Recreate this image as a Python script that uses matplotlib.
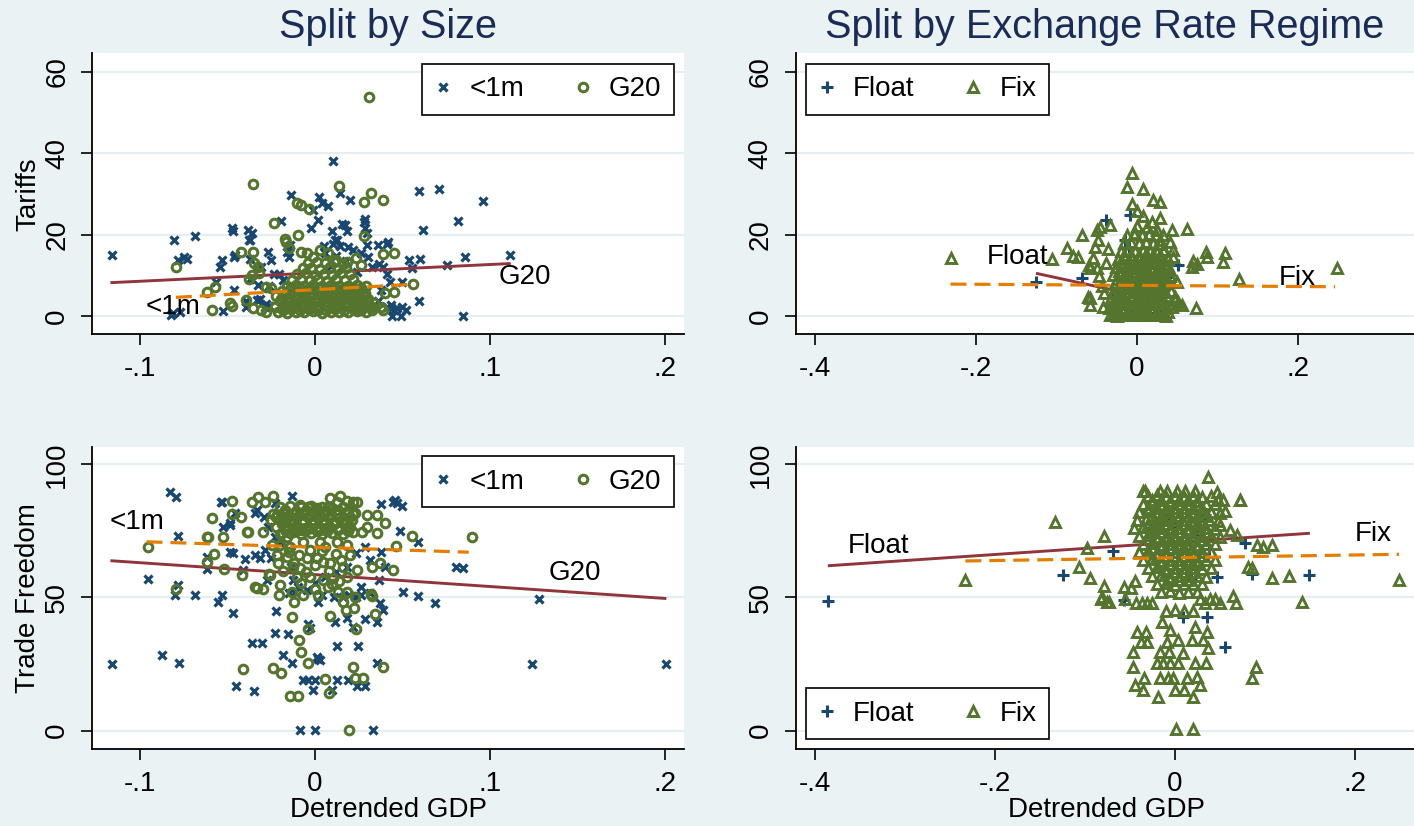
import matplotlib
matplotlib.use("Agg")
import matplotlib.pyplot as plt
from matplotlib.lines import Line2D

plt.rcParams['font.family'] = ['Liberation Sans', 'DejaVu Sans']

# ---------------- colours (Stata s2color) ----------------
NAVY = "#1a476f"
MAROON = "#90353b"
GREEN = "#55752f"
ORANGE = "#e37e00"
BG = "#eaf2f3"
GRID = "#e6eef2"
TITLE_C = "#1a2b56"

# ---------------- data ----------------
TITLES = ["Split by Size", "Split by Exchange Rate Regime"]
YLABELS = ["Tariffs", "Trade Freedom"]
XLABEL = "Detrended GDP"

SIZE_LABELS = ["<1m", "G20"]
ERR_LABELS = ["Float", "Fix"]

TOP_XTICKS_L = [-0.1, 0, 0.1, 0.2]
TOP_XTICKLABELS_L = ["-.1", "0", ".1", ".2"]
XTICKS_R = [-0.4, -0.2, 0, 0.2]
XTICKLABELS_R = ["-.4", "-.2", "0", ".2"]
YTICKS_TOP = [0, 20, 40, 60]
YTICKS_BOT = [0, 50, 100]

# Panel 1: tariffs, split by size
P1_SMALL = [(-0.116,15.0),(-0.0806,18.7),(-0.0686,19.7),(-0.075,14.5),(-0.073,14.0),(-0.078,13.8),
    (-0.081,0.8),(-0.082,0.2),(-0.077,1.0),(-0.053,13.7),(-0.054,12.1),(-0.046,14.6),(-0.0476,21.6),
    (-0.047,20.8),(-0.038,21.2),(-0.036,20.4),(-0.0377,18.6),(-0.0563,8.4),(-0.0526,1.3),(-0.0396,2.3),
    (-0.0394,3.8),(-0.046,6.5),(-0.037,9.0),(-0.0325,7.7),(-0.0317,4.2),(-0.028,2.9),(-0.026,2.5),
    (-0.0195,23.4),(-0.0138,29.7),(-0.037,18.6),(-0.0457,15.1),(-0.037,14.0),(-0.0306,12.1),
    (-0.0254,13.7),(-0.0151,14.6),(-0.0267,15.8),(0.0105,38.1),(0.0023,29.2),(0.0038,27.8),
    (0.0076,27.0),(-0.001,26.0),(0.0143,30.2),(0.020,28.5),(0.0286,23.8),(0.002,23.5),(-0.0023,21.5),
    (0.010,21.0),(0.0157,22.7),(0.017,22.3),(0.0185,21.0),(0.030,20.5),(0.0287,21.5),(0.0281,23.1),
    (0.0113,18.7),(0.0126,18.6),(0.0101,17.8),(0.005,17.2),(0.0145,17.3),(0.019,17.0),(0.030,17.4),
    (0.036,17.4),(0.041,17.8),(0.042,18.1),(0.0264,15.4),(0.0305,14.6),(0.0325,12.1),(0.0367,12.9),
    (0.0388,12.1),(0.0409,10.4),(0.0429,8.4),(0.0377,6.3),(0.0435,2.7),(0.0449,1.5),(0.0439,0.0),
    (0.0409,2.3),(0.0359,3.6),(0.0338,2.3),(-0.0203,10.4),(-0.0182,8.8),(-0.0162,5.6),(-0.012,3.1),
    (-0.014,17.4),(-0.016,15.8),(-0.0233,10.4),(-0.026,7.3),(-0.033,4.0),(-0.0284,2.3),
    (0.006,15.5),(0.012,14.8),(0.018,13.5),(0.022,16.2),(0.009,12.4),(0.024,10.8),
    (0.0594,30.7),(0.0707,31.1),(0.0962,28.3),(0.0815,23.4),(0.0617,21.1),(0.1114,15.0),(0.0857,14.4),
    (0.0752,12.5),(0.054,13.7),(0.060,13.9),(0.0557,11.8),(0.05,8.3),(0.0594,3.8),(0.0848,0.0),
    (0.047,2.0),(0.05,2.2),(0.049,0.0),(0.052,1.5)]

P1_G20 = [(0.0307,53.8),(-0.0356,32.3),(0.0139,32.0),(0.032,30.3),(0.039,28.5),(0.028,28.0),
    (-0.010,27.7),(-0.0079,27.2),(-0.0035,26.4),(-0.0234,22.8),(-0.0171,19.0),(-0.0164,18.3),
    (-0.0095,20.0),(0.028,19.7),(-0.0354,15.8),(-0.0422,15.8),(-0.0794,12.1),(-0.057,7.2),(-0.0619,6.0),
    (-0.0589,1.5),(-0.0476,2.5),(-0.0487,3.2),(-0.0396,3.9),(-0.0375,9.2),(-0.035,13.1),(-0.0327,12.0),
    (-0.028,7.2),(-0.0254,6.8),(-0.0357,1.9),(-0.0306,1.5),(-0.028,1.1),(-0.0151,16.8),(-0.0079,15.8),
    (-0.0048,15.4),(-0.001,14.6),(0.0029,16.2),(0.0075,15.4),(0.0119,13.7),(0.0184,13.3),(0.0235,14.2),
    (0.0261,12.5),(0.039,15.2),(0.0454,15.6),(0.0403,5.6),(0.0454,6.0),(0.0562,7.8),(0.0326,2.3),
    (0.0377,2.3),(0.039,1.5),(-0.036,10.0),(-0.032,10.6),
    (-0.021,1.0),(-0.016,0.8),(-0.011,1.1),(-0.006,0.9),(-0.001,1.2),(0.004,0.8),(0.009,1.0),(0.014,1.1),
    (0.019,0.9),(0.024,1.2),(0.029,1.0),
    (-0.023,2.3),(-0.018,2.1),(-0.013,2.4),(-0.008,2.2),(-0.003,2.5),(0.002,2.1),(0.007,2.4),(0.012,2.2),
    (0.017,2.5),(0.022,2.3),(0.027,2.1),(0.031,2.6),
    (-0.020,3.6),(-0.015,3.8),(-0.010,3.5),(-0.005,3.9),(0.000,3.6),(0.005,3.4),(0.010,3.8),(0.015,3.6),
    (0.020,3.9),(0.025,3.5),(0.030,3.7),
    (-0.022,4.9),(-0.017,5.1),(-0.012,4.8),(-0.007,5.0),(-0.002,4.7),(0.003,5.1),(0.008,4.9),(0.013,5.2),
    (0.018,4.8),(0.023,5.0),(0.028,4.9),
    (-0.019,6.2),(-0.014,6.4),(-0.009,6.1),(-0.004,6.3),(0.001,6.0),(0.006,6.4),(0.011,6.2),(0.016,6.1),
    (0.021,6.3),(0.026,6.2),
    (-0.016,7.5),(-0.011,7.7),(-0.006,7.4),(-0.001,7.6),(0.004,7.3),(0.009,7.7),(0.014,7.5),(0.019,7.4),
    (0.024,7.6),(0.029,7.5),
    (-0.013,8.9),(-0.008,9.1),(-0.003,8.8),(0.002,9.0),(0.007,8.7),(0.012,9.1),(0.017,8.9),(0.022,9.0),
    (-0.010,10.3),(-0.005,10.5),(0.000,10.2),(0.005,10.4),(0.010,10.1),(0.015,10.5),(0.020,10.3),
    (-0.007,11.7),(-0.002,11.9),(0.003,11.6),(0.008,11.8),(0.013,11.5),(0.018,11.9),
    (-0.004,13.1),(0.001,13.3),(0.006,13.0),(0.011,13.2),(0.016,12.9),
    (-0.0185,1.6),(-0.0135,1.7),(-0.0085,1.5),(-0.0035,1.8),(0.0015,1.6),(0.0065,1.5),(0.0115,1.7),
    (0.0165,1.6),(0.0215,1.8),(0.0265,1.5),(0.0325,1.4),
    (-0.0175,3.0),(-0.0125,2.9),(-0.0075,3.1),(-0.0025,3.0),(0.0025,2.8),(0.0075,3.1),(0.0125,3.0),
    (0.0175,2.9),(0.0225,3.1),(0.0275,3.0),(0.0335,3.2),
    (-0.0195,4.3),(-0.0145,4.2),(-0.0095,4.4),(-0.0045,4.3),(0.0005,4.1),(0.0055,4.4),(0.0105,4.3),
    (0.0155,4.2),(0.0205,4.4),(0.0255,4.3),(0.0305,4.2),
    (-0.0165,5.6),(-0.0115,5.5),(-0.0065,5.7),(-0.0015,5.6),(0.0035,5.4),(0.0085,5.7),(0.0135,5.6),
    (0.0185,5.5),(0.0235,5.7),(0.0285,5.6),
    (-0.0135,6.9),(-0.0085,6.8),(-0.0035,7.0),(0.0015,6.9),(0.0065,6.7),(0.0115,7.0),(0.0165,6.9),
    (0.0215,6.8),(0.0265,7.0)]

P1_FIT_SMALL_X = [-0.1169, 0.1119]
P1_FIT_SMALL_Y = [8.2, 12.9]
P1_FIT_G20_X = [-0.0795, 0.0562]
P1_FIT_G20_Y = [4.6, 7.8]

# Panel 2: tariffs, split by exchange rate regime
P2_FLOAT = [(-0.1255,8.4),(-0.0687,9.4),(-0.0389,23.6),(-0.0087,24.8),(0.0513,12.5),(0.0402,9.5),
    (-0.0149,18.6),(-0.021,0.7),(0.012,0.7),(0.0286,2.0),(-0.005,1.5),(0.02,3.5),(-0.01,17.0),
    (0.005,10.0),(0.03,6.0),(-0.03,5.0)]

P2_FIX = [(-0.2314,14.3),(-0.106,13.9),(-0.0873,16.6),(-0.079,14.7),(-0.0729,14.4),(-0.068,19.9),
    (-0.0596,12.5),(-0.058,11.7),(-0.0066,35.0),(-0.0128,31.7),(0.0078,31.3),(0.0195,28.6),(0.0286,28.0),
    (-0.0066,27.6),(-0.0004,25.9),(0.0286,24.0),(0.043,21.1),(0.0617,21.3),(0.0853,15.8),(0.0866,14.6),
    (0.1093,15.4),(0.1072,13.3),(0.075,12.8),(0.07,13.5),(0.068,12.0),(0.127,9.2),(0.0729,1.9),
    (0.2488,11.9),(-0.046,21.8),(-0.0335,22.3),(-0.050,21.1),(-0.048,18.6),(-0.0522,17.0),(-0.0543,14.2),
    (-0.050,11.7),(-0.0605,4.7),(-0.0584,4.5),(-0.0584,2.7),(-0.0419,2.3),(-0.0335,0.2),(-0.0252,0.0),
    (0.0017,0.2),(0.0224,0.2),(0.0348,0.2),(0.036,0.0),(0.0472,4.7),(0.0493,8.4),(0.041,11.3),
    (0.0513,3.5),(0.0555,2.7),(0.0307,9.6),(0.0327,16.2),(0.0286,18.6),(0.041,18.2),(0.0451,16.2),
    (0.0445,14.5),(0.012,21.9),(0.0182,23.1),(0.0245,21.1),(0.0327,19.9),(0.0,22.0),(-0.004,20.2),
    (0.0078,24.5),(-0.044,7.5),(-0.047,9.8),(-0.041,5.6),(-0.038,13.0),(-0.036,16.5),
    (-0.030,0.3),(-0.022,0.4),(-0.012,0.2),(-0.003,0.4),(0.006,0.3),(0.015,0.2),(0.024,0.4),(0.033,0.3),
    (-0.035,2.0),(-0.027,2.2),(-0.018,1.9),(-0.009,2.1),(0.000,2.0),(0.009,2.2),(0.018,1.8),(0.027,2.1),
    (0.036,2.0),(0.044,2.2),
    (-0.033,4.0),(-0.024,4.2),(-0.015,3.9),(-0.006,4.1),(0.003,4.0),(0.012,3.8),(0.021,4.1),(0.030,4.0),
    (0.039,4.2),(0.047,3.9),
    (-0.030,6.0),(-0.021,6.2),(-0.012,5.9),(-0.003,6.1),(0.006,6.0),(0.015,5.8),(0.024,6.2),(0.033,6.0),
    (0.042,6.1),
    (-0.028,8.0),(-0.019,8.2),(-0.010,7.9),(-0.001,8.1),(0.008,8.0),(0.017,7.8),(0.026,8.2),(0.035,8.0),
    (-0.030,10.0),(-0.021,10.2),(-0.012,9.9),(-0.003,10.1),(0.006,10.0),(0.015,9.8),(0.024,10.2),
    (0.033,10.0),(0.041,9.9),
    (-0.026,12.0),(-0.017,12.2),(-0.008,11.9),(0.001,12.1),(0.010,12.0),(0.019,11.8),(0.028,12.2),
    (0.037,12.0),
    (-0.024,14.0),(-0.015,14.2),(-0.006,13.9),(0.003,14.1),(0.012,14.0),(0.021,13.8),(0.030,14.2),
    (0.038,14.0),
    (-0.020,16.0),(-0.011,16.2),(-0.002,15.9),(0.007,16.1),(0.016,16.0),(0.025,15.8),(0.034,16.2),
    (-0.016,18.0),(-0.007,18.2),(0.002,17.9),(0.011,18.1),(0.020,18.0),(0.029,17.8),
    (-0.012,20.0),(-0.003,20.3),(0.006,19.8),(0.015,20.1),(0.024,20.0),
    (-0.026,1.0),(-0.017,1.1),(-0.008,0.9),(0.001,1.2),(0.010,1.0),(0.019,1.1),(0.028,0.9),(0.038,1.1),
    (-0.030,3.0),(-0.021,3.1),(-0.012,2.9),(-0.003,3.2),(0.006,3.0),(0.015,3.1),(0.024,2.9),(0.033,3.1),
    (0.042,3.0),
    (-0.026,5.0),(-0.017,5.1),(-0.008,4.9),(0.001,5.2),(0.010,5.0),(0.019,5.1),(0.028,4.9),(0.037,5.0),
    (-0.024,7.0),(-0.015,7.1),(-0.006,6.9),(0.003,7.2),(0.012,7.0),(0.021,7.1),(0.030,6.9),
    (-0.025,9.0),(-0.016,9.1),(-0.007,8.9),(0.002,9.2),(0.011,9.0),(0.020,9.1),(0.029,8.9),(0.037,9.0),
    (-0.022,11.0),(-0.013,11.1),(-0.004,10.9),(0.005,11.2),(0.014,11.0),(0.023,11.1),(0.032,10.9),
    (-0.020,13.0),(-0.011,13.1),(-0.002,12.9),(0.007,13.2),(0.016,13.0),(0.025,13.1),(0.034,12.9),
    (-0.016,15.0),(-0.007,15.1),(0.002,14.9),(0.011,15.2),(0.020,15.0),(0.029,15.1)]

P2_FIT_FLOAT_X = [-0.1255, 0.052]
P2_FIT_FLOAT_Y = [10.5, 2.9]
P2_FIT_FIX_X = [-0.2317, 0.246]
P2_FIT_FIX_Y = [7.85, 7.2]

# Panel 3: trade freedom, split by size
P3_SMALL = [(-0.116,24.9),(-0.0829,89.7),(-0.0794,87.8),(-0.0784,73.1),(-0.0952,56.9),(-0.080,50.9),
    (-0.078,54.7),(-0.0686,50.9),(-0.0876,28.4),(-0.0775,25.3),(-0.0553,48.4),(-0.0533,50.9),
    (-0.0467,44.1),(-0.0453,16.9),(-0.0347,15.0),(-0.0362,33.0),(-0.0305,33.0),(-0.0229,36.6),
    (-0.0153,36.2),(-0.0185,28.4),(-0.0133,25.3),(-0.0223,44.9),(-0.0086,0.2),(0.0,0.2),(0.033,0.2),
    (-0.0067,19.0),(-0.0038,19.0),(0.0,19.0),(-0.001,15.4),(0.0124,19.0),(0.019,19.0),(0.0238,16.9),
    (0.0286,16.9),(0.0095,15.4),(0.001,27.8),(0.003,26.5),(0.002,27.0),(0.0124,31.9),(0.0248,31.9),
    (0.0352,25.3),(-0.004,40.0),(-0.003,38.5),(-0.0457,81.6),(-0.0486,77.2),(-0.0524,76.6),
    (-0.0229,85.4),(-0.0133,88.2),(-0.053,85.7),(0.0377,85.0),(0.0448,86.0),(0.0467,85.4),(0.0457,86.6),
    (0.0495,84.4),(0.0486,75.0),(0.0587,70.7),(0.0806,61.6),(0.0848,61.0),(0.0505,52.0),(0.0587,50.7),
    (0.0686,48.0),(0.128,49.6),(0.1242,25.0),(0.2006,25.0),
    (0.0114,40.9),(0.0181,42.2),(0.0219,39.0),(0.0286,41.8),(0.0352,40.9),(0.039,45.3),(0.0371,47.8),
    (-0.0486,67.2),(-0.0467,66.6),(-0.040,64.3),(-0.0343,66.0),(-0.0314,64.7),(-0.0286,67.8),
    (-0.0619,65.3),(-0.0619,60.7),(-0.041,60.3),(-0.0276,56.6),(-0.0538,86.0),(-0.0486,77.9),
    (-0.0331,82.8),(-0.0293,80.3),(-0.0267,76.6),(-0.0229,72.8),(-0.0203,70.9),(-0.0254,64.7),
    (-0.0138,61.6),(-0.0126,56.6),(-0.0099,54.1),(-0.0048,52.8),(0.0003,55.3),(0.0055,57.8),
    (0.0119,59.7),(0.0184,61.6),(0.0235,66.6),(0.0287,69.1),(0.0313,64.1),(0.0377,67.2),(0.0403,61.6),
    (0.0364,56.6),(0.0261,54.1),(0.0158,50.3),(0.0313,51.5),(0.0261,51.0),(0.0235,50.3),(0.0197,51.0),
    (0.0042,51.0),(0.0106,50.3),(0.0016,48.3),(-0.0151,51.5),(-0.0112,52.1),(-0.0344,81.8)]

P3_G20 = [(-0.0952,69.1),(-0.0794,53.1),(-0.0619,72.8),(-0.0612,72.8),(-0.0524,72.8),(-0.0587,80.0),
    (-0.0476,86.2),(-0.0423,80.2),(-0.0476,81.5),(-0.0385,74.6),(-0.0577,66.2),(-0.0615,63.4),
    (-0.052,60.7),(-0.0417,58.3),(-0.034,54.0),(-0.0295,53.2),(-0.0206,50.8),(-0.0263,58.7),
    (-0.041,23.2),(-0.0238,23.6),(-0.0194,21.8),(-0.0143,13.1),(-0.0099,13.1),(0.0196,0.3),(0.0057,19.4),
    (0.0078,14.0),(0.0219,24.0),(0.0229,19.7),(0.0276,19.7),(0.0387,24.0),(-0.0038,38.2),(-0.009,34.0),
    (-0.0082,29.7),(-0.0038,25.5),(-0.0133,42.8),(-0.0118,48.4),(0.0086,43.2),(0.018,45.3),(0.0224,46.2),
    (0.0234,38.1),(0.0343,43.9),(0.0324,50.7),(0.0552,73.1),(0.0895,72.8),(0.0463,69.3),(0.0448,60.3),
    (-0.0362,85.7),(-0.0327,87.6),(-0.0286,85.7),(-0.0242,88.2),(0.0086,87.2),(0.0143,88.1),(0.0181,86.3),
    (0.0219,86.0),(0.0238,85.7),(0.0124,86.0),(-0.0086,84.7),(-0.0038,83.9),(0.001,83.5),(0.0076,83.9),
    (0.0229,81.6),(0.0295,81.0),(0.0352,81.0),(0.040,77.9),(0.0352,74.1),(0.0295,76.6),(0.0267,74.7),
    (0.0219,74.7),(0.0181,76.6),(0.0371,62.8),(0.0324,61.6),(0.0320,51.2),
    (-0.039,74.7),(-0.0295,74.7),(-0.0219,81.0),(-0.0181,80.3),(-0.0143,79.1),(-0.019,74.1),
    (-0.0162,72.8),(-0.0124,74.7),(-0.0076,75.3),(-0.0029,76.0),(0.0029,75.3),(-0.0248,69.7),
    (-0.020,69.7),(-0.0143,69.1),(-0.0067,71.0),(0.0029,71.0),(0.0124,71.0),(0.0181,69.7),
    (-0.0219,66.0),(-0.0162,65.3),(-0.0124,61.6),(-0.0086,61.0),(-0.0048,64.7),(0.001,64.7),
    (0.0048,63.4),(0.0086,62.8),(0.0162,61.6),(0.0238,60.3),(0.0181,57.8),(0.0105,57.2),(0.0048,56.6),
    (-0.0029,57.8),(-0.0105,57.8),(-0.0067,50.9),(-0.0133,52.2),(-0.020,54.7),(-0.0257,58.4),
    (-0.0333,53.4),(0.0019,50.9),(0.0076,54.1),(0.0133,52.2),(0.0181,52.2),(0.0229,50.3),(0.0162,48.4),
    (-0.020,84.0),(-0.014,84.3),(-0.008,83.8),(-0.002,84.2),(0.004,84.0),(0.010,83.7),(0.016,84.1),
    (-0.024,81.5),(-0.018,81.8),(-0.012,81.3),(-0.006,81.6),(0.000,81.4),(0.006,81.7),(0.012,81.2),
    (0.018,81.6),(0.022,81.4),
    (-0.025,79.0),(-0.019,79.3),(-0.013,78.8),(-0.007,79.1),(-0.001,78.9),(0.005,79.2),(0.011,78.7),
    (0.017,79.0),(0.021,79.2),
    (-0.022,76.5),(-0.016,76.8),(-0.010,76.3),(-0.004,76.6),(0.002,76.4),(0.008,76.7),(0.014,76.2),
    (0.020,76.5),
    (-0.020,74.0),(-0.014,74.3),(-0.008,73.8),(-0.002,74.1),(0.004,73.9),(0.010,74.2),(0.016,73.7),
    (-0.015,67.0),(-0.009,66.0),(-0.003,68.0),(0.004,67.5),(0.012,66.5),(-0.012,63.0),(0.000,62.0),
    (0.008,60.0),(0.015,64.0),(-0.018,60.0),(0.020,66.0),(-0.005,59.5),(0.006,69.0),(-0.021,63.0),
    (0.010,55.0),(0.000,53.0),(-0.008,55.5),(0.014,56.0),
    (-0.017,82.8),(-0.011,82.6),(-0.005,82.9),(0.001,82.7),(0.007,82.5),(0.013,82.8),(0.019,82.6),
    (-0.022,80.2),(-0.016,80.0),(-0.010,80.3),(-0.004,80.1),(0.002,79.9),(0.008,80.2),(0.014,80.0),
    (0.020,80.3),
    (-0.019,77.7),(-0.013,77.5),(-0.007,77.8),(-0.001,77.6),(0.005,77.4),(0.011,77.7),(0.017,77.5),
    (-0.017,75.2),(-0.011,75.0),(-0.005,75.3),(0.001,75.1),(0.007,74.9),(0.013,75.2),(0.019,75.0)]

P3_FIT_SMALL_X = [-0.1169, 0.2008]
P3_FIT_SMALL_Y = [63.8, 49.6]
P3_FIT_G20_X = [-0.0963, 0.0879]
P3_FIT_G20_Y = [70.9, 67.0]

# Panel 4: trade freedom, split by exchange rate regime
P4_FLOAT = [(-0.3852,48.7),(-0.1243,58.4),(-0.068,67.6),(-0.0561,49.1),(0.0098,42.8),(0.0358,42.8),
    (0.0561,31.5),(0.0476,57.6),(0.0387,68.1),(0.0783,70.3),(0.0858,58.7),(0.1498,58.4),(0.0339,81.0),
    (-0.0309,74.7),(0.024,73.0),(0.0187,57.0),(-0.010,80.0),(0.000,76.0)]

P4_FIX = [(0.0376,95.3),(-0.0328,90.1),(-0.0161,90.1),(-0.0087,90.1),(0.0024,90.1),(0.0117,90.1),
    (0.0228,90.1),(-0.035,90.1),(0.0469,89.7),(0.0728,86.6),(0.0542,86.6),(0.0487,86.6),(0.0561,82.6),
    (0.0506,77.2),(0.0617,75.3),(0.0691,73.5),(-0.1328,78.5),(-0.078,73.1),(-0.0969,68.7),(-0.1061,61.3),
    (-0.0939,57.4),(-0.078,54.4),(-0.0558,53.8),(-0.081,50.1),(-0.0753,48.4),(-0.0724,48.4),
    (0.0913,69.7),(0.0987,68.8),(0.108,69.7),(0.082,61.6),(0.0858,61.0),(0.108,57.2),(0.1276,58.1),
    (0.1413,48.4),(0.0654,50.6),(0.0683,48.1),(0.0902,23.8),(0.0858,19.9),(0.0017,0.6),(0.0209,0.6),
    (-0.0187,12.8),(0.0006,15.3),(0.0106,15.3),(0.0202,12.8),(-0.0464,29.7),(-0.0458,23.8),
    (-0.0439,17.2),(-0.0347,15.3),(-0.0336,19.7),(-0.042,36.9),(-0.032,36.9),(-0.037,33.4),
    (-0.0306,33.4),(-0.2324,56.6),(0.2494,56.6),(0.0732,86.6),
    (-0.0161,29.7),(-0.0058,29.7),(0.0098,29.3),(-0.0161,19.9),(-0.0069,19.7),(-0.0013,19.7),
    (0.0135,19.7),(0.0246,20.3),(0.0283,17.2),(0.035,25.3),(0.0228,25.3),(0.0376,30.9),(0.032,34.0),
    (0.0357,36.9),(0.0228,39.0),(0.0191,34.0),(0.0042,34.0),(-0.0087,33.4),(-0.005,37.8),(-0.0143,40.9),
    (-0.0198,25.3),(-0.0124,25.3),(-0.005,25.3),(0.0042,25.3),
    (-0.082,49.3),(-0.055,49.3),(-0.0428,48.1),(-0.0365,48.1),(-0.0309,48.1),(-0.0254,48.1),
    (0.0283,49.3),(0.0339,48.1),(0.0394,49.3),(0.045,49.3),(0.0506,48.1),(-0.048,53.5),(-0.044,56.0),
    (-0.030,88.0),(-0.020,88.3),(-0.010,87.8),(0.000,88.1),(0.010,87.9),(0.020,88.2),(0.030,87.7),
    (0.040,88.0),
    (-0.035,85.0),(-0.025,85.3),(-0.015,84.8),(-0.005,85.1),(0.005,84.9),(0.015,85.2),(0.025,84.7),
    (0.035,85.0),(0.045,85.2),
    (-0.040,82.0),(-0.030,82.3),(-0.020,81.8),(-0.010,82.1),(0.000,81.9),(0.010,82.2),(0.020,81.7),
    (0.030,82.0),(0.040,82.2),(0.050,81.8),
    (-0.042,79.0),(-0.032,79.3),(-0.022,78.8),(-0.012,79.1),(-0.002,78.9),(0.008,79.2),(0.018,78.7),
    (0.028,79.0),(0.038,79.2),(0.048,78.8),
    (-0.045,76.0),(-0.035,76.3),(-0.025,75.8),(-0.015,76.1),(-0.005,75.9),(0.005,76.2),(0.015,75.7),
    (0.025,76.0),(0.035,76.2),(0.045,75.8),
    (-0.040,73.0),(-0.030,73.3),(-0.020,72.8),(-0.010,73.1),(0.000,72.9),(0.010,73.2),(0.020,72.7),
    (0.030,73.0),(0.040,73.2),(0.050,72.8),
    (-0.035,70.0),(-0.025,70.3),(-0.015,69.8),(-0.005,70.1),(0.005,69.9),(0.015,70.2),(0.025,69.7),
    (0.035,70.0),(0.045,70.2),
    (-0.040,67.0),(-0.030,67.3),(-0.020,66.8),(-0.010,67.1),(0.000,66.9),(0.010,67.2),(0.020,66.7),
    (0.030,67.0),(0.040,67.2),
    (-0.035,64.0),(-0.025,64.3),(-0.015,63.8),(-0.005,64.1),(0.005,63.9),(0.015,64.2),(0.025,63.7),
    (0.035,64.0),(0.045,64.2),
    (-0.030,61.0),(-0.020,61.3),(-0.010,60.8),(0.000,61.1),(0.010,60.9),(0.020,61.2),(0.030,60.7),
    (0.040,61.0),
    (-0.025,58.0),(-0.015,58.3),(-0.005,57.8),(0.005,58.1),(0.015,57.9),(0.025,58.2),(0.035,57.7),
    (-0.020,55.0),(-0.010,55.3),(0.000,54.8),(0.010,55.1),(0.020,54.9),(0.030,55.2),
    (-0.015,52.0),(-0.005,52.3),(0.005,51.8),(0.015,52.1),(0.025,51.9),
    (-0.010,45.0),(0.000,45.3),(0.010,44.8),(0.020,45.1),
    (-0.015,79.5),(0.005,80.5),(0.015,74.5),(-0.005,71.5),(0.010,68.5),(-0.010,65.5),(0.020,62.5),
    (0.000,59.5),(0.025,77.5),(-0.020,77.0),
    (-0.025,86.5),(-0.015,86.6),(-0.005,86.4),(0.005,86.7),(0.015,86.5),(0.025,86.4),
    (-0.030,83.5),(-0.020,83.6),(-0.010,83.4),(0.000,83.7),(0.010,83.5),(0.020,83.4),(0.030,83.6),
    (-0.025,80.5),(-0.015,80.6),(-0.005,80.4),(0.005,80.7),(0.015,80.5),(0.025,80.4),(0.035,80.6),
    (-0.030,77.5),(-0.020,77.6),(-0.010,77.4),(0.000,77.7),(0.010,77.5),(0.020,77.4),(0.030,77.6),
    (-0.025,74.5),(-0.015,74.6),(-0.005,74.4),(0.005,74.7),(0.025,74.4),(0.035,74.6),
    (-0.020,71.5),(-0.010,71.6),(0.000,71.4),(0.010,71.7),(0.020,71.5),(0.030,71.4),
    (-0.025,68.5),(-0.015,68.6),(-0.005,68.4),(0.005,68.7),(0.015,68.5),(0.025,68.4),
    (-0.020,65.5),(0.000,65.4),(0.010,65.7),(0.020,65.5),(0.030,65.4),
    (-0.015,62.5),(-0.005,62.6),(0.005,62.4),(0.015,62.7),(0.025,62.4),
    (-0.010,59.5),(0.010,59.4),(0.020,59.6),
    (-0.005,56.5),(0.005,56.6),(0.015,56.4)]

P4_FIT_FLOAT_X = [-0.3852, 0.1503]
P4_FIT_FLOAT_Y = [61.9, 74.1]
P4_FIT_FIX_X = [-0.2324, 0.2494]
P4_FIT_FIX_Y = [63.7, 66.2]

# ---------------- figure ----------------
W, H = 1414, 826
fig = plt.figure(figsize=(W / 100, H / 100), dpi=100, facecolor=BG)


def px_axes(left, right, top, bottom):
    return fig.add_axes([left / W, 1 - bottom / H, (right - left) / W, (bottom - top) / H])


FS = 20
MK = {
    "x": dict(marker="x", ms=6.0, mew=2.3, color=NAVY, ls="none"),
    "o": dict(marker="o", ms=6.2, mew=2.2, mfc="none", mec=GREEN, ls="none"),
    "+": dict(marker="+", ms=9.0, mew=2.2, color=NAVY, ls="none"),
    "^": dict(marker="^", ms=7.0, mew=2.1, mfc="none", mec=GREEN, ls="none"),
}


def style(ax, xlim, ylim, xticks, xticklabels, yticks):
    ax.set_facecolor("white")
    ax.set_xlim(*xlim)
    ax.set_ylim(*ylim)
    for s in ["top", "right"]:
        ax.spines[s].set_visible(False)
    for s in ["left", "bottom"]:
        ax.spines[s].set_linewidth(1.3)
        ax.spines[s].set_color("black")
    ax.set_xticks(xticks)
    ax.set_xticklabels(xticklabels)
    ax.set_yticks(yticks)
    ax.set_yticklabels([str(v) for v in yticks], rotation=90, va="center")
    ax.tick_params(direction="out", length=8, width=1.2, pad=8, labelsize=FS)
    ax.grid(axis="y", color=GRID, lw=1.6)
    ax.set_axisbelow(True)


def draw(ax, s1, m1, fit1, s2, m2, fit2):
    x1, y1 = zip(*s1)
    x2, y2 = zip(*s2)
    ax.plot(x1, y1, zorder=2, **MK[m1])
    ax.plot(fit1[0], fit1[1], color=MAROON, lw=2.1, zorder=3, solid_capstyle="butt")
    ax.plot(x2, y2, zorder=4, **MK[m2])
    ax.plot(fit2[0], fit2[1], color=ORANGE, lw=2.3, zorder=5, dashes=(5.0, 2.5))


def legend(ax, m1, m2, labels, loc, anchor):
    h = [Line2D([], [], **MK[m1]), Line2D([], [], **MK[m2])]
    lg = ax.legend(h, labels, loc=loc, bbox_to_anchor=anchor, ncol=2, fontsize=FS,
                   frameon=True, fancybox=False, framealpha=1, edgecolor="black",
                   handlelength=0.6, handletextpad=0.65, columnspacing=1.8,
                   borderpad=0.45, borderaxespad=0.0)
    lg.get_frame().set_linewidth(1.2)
    lg.set_zorder(10)


ax1 = px_axes(92.4, 684, 53.3, 334)
ax2 = px_axes(796, 1414, 53.3, 334)
ax3 = px_axes(92.4, 684, 446.7, 749)
ax4 = px_axes(796, 1414, 446.7, 749)

style(ax1, (-0.1272, 0.2109), (-4.4, 64.5), TOP_XTICKS_L, TOP_XTICKLABELS_L, YTICKS_TOP)
style(ax2, (-0.4236, 0.344), (-4.4, 64.5), XTICKS_R, XTICKLABELS_R, YTICKS_TOP)
style(ax3, (-0.1272, 0.2109), (-6.9, 106.6), TOP_XTICKS_L, TOP_XTICKLABELS_L, YTICKS_BOT)
style(ax4, (-0.4206, 0.266), (-6.9, 106.6), XTICKS_R, XTICKLABELS_R, YTICKS_BOT)

draw(ax1, P1_SMALL, "x", (P1_FIT_SMALL_X, P1_FIT_SMALL_Y), P1_G20, "o", (P1_FIT_G20_X, P1_FIT_G20_Y))
draw(ax2, P2_FLOAT, "+", (P2_FIT_FLOAT_X, P2_FIT_FLOAT_Y), P2_FIX, "^", (P2_FIT_FIX_X, P2_FIT_FIX_Y))
draw(ax3, P3_SMALL, "x", (P3_FIT_SMALL_X, P3_FIT_SMALL_Y), P3_G20, "o", (P3_FIT_G20_X, P3_FIT_G20_Y))
draw(ax4, P4_FLOAT, "+", (P4_FIT_FLOAT_X, P4_FIT_FLOAT_Y), P4_FIX, "^", (P4_FIT_FIX_X, P4_FIT_FIX_Y))

# line labels
ax1.text(-0.081, 2.3, "<1m", fontsize=FS, ha="center", va="center", zorder=6)
ax1.text(0.120, 9.5, "G20", fontsize=FS, ha="center", va="center", zorder=6)
ax2.text(-0.149, 14.6, "Float", fontsize=FS, ha="center", va="center", zorder=6)
ax2.text(0.1995, 9.4, "Fix", fontsize=FS, ha="center", va="center", zorder=6)
ax3.text(-0.1014, 78.5, "<1m", fontsize=FS, ha="center", va="center", zorder=6)
ax3.text(0.1485, 59.3, "G20", fontsize=FS, ha="center", va="center", zorder=6)
ax4.text(-0.329, 69.3, "Float", fontsize=FS, ha="center", va="center", zorder=6)
ax4.text(0.2206, 73.8, "Fix", fontsize=FS, ha="center", va="center", zorder=6)

legend(ax1, "x", "o", SIZE_LABELS, "upper right", (0.983, 0.962))
legend(ax2, "+", "^", ERR_LABELS, "upper left", (0.016, 0.962))
legend(ax3, "x", "o", SIZE_LABELS, "upper right", (0.983, 0.969))
legend(ax4, "+", "^", ERR_LABELS, "lower left", (0.016, 0.033))

# titles and axis labels
fig.text(388 / W, 1 - 27 / H, TITLES[0], fontsize=28.5, color=TITLE_C, ha="center", va="center")
fig.text(1105 / W, 1 - 27 / H, TITLES[1], fontsize=28.5, color=TITLE_C, ha="center", va="center")
fig.text(28 / W, 1 - 194 / H, YLABELS[0], fontsize=FS, rotation=90, ha="center", va="center")
fig.text(28 / W, 1 - 598 / H, YLABELS[1], fontsize=FS, rotation=90, ha="center", va="center")
fig.text(389 / W, 1 - 810 / H, XLABEL, fontsize=FS, ha="center", va="center")
fig.text(1107 / W, 1 - 810 / H, XLABEL, fontsize=FS, ha="center", va="center")

fig.savefig("out.png", dpi=100, facecolor=BG)
